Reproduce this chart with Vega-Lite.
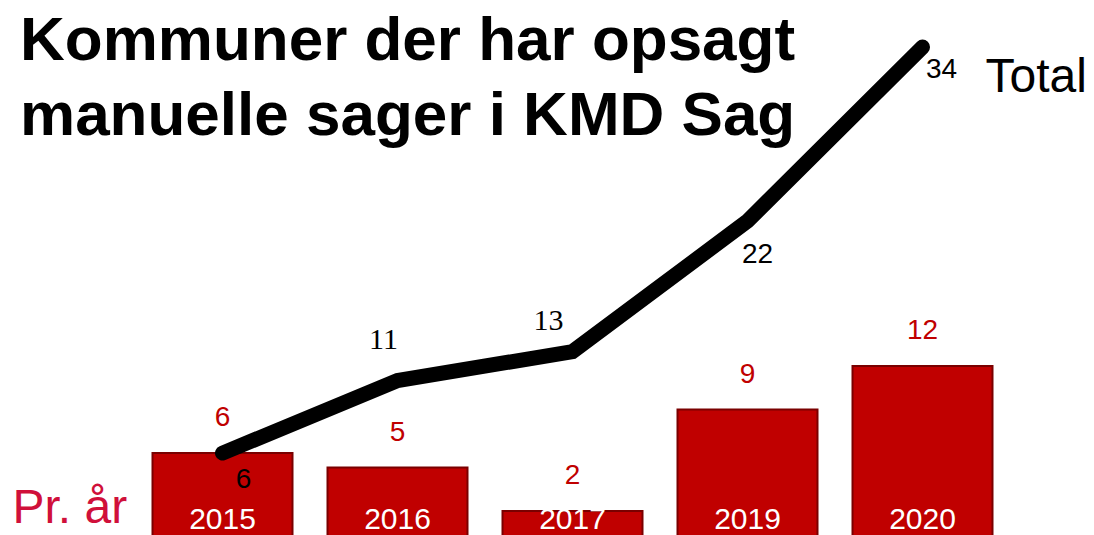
{
  "$schema": "https://vega.github.io/schema/vega-lite/v6.json",
  "width": 875,
  "height": 535,
  "autosize": {"type": "none"},
  "padding": {"left": 135, "top": 0, "right": 84, "bottom": 0},
  "background": "white",
  "config": {"view": {"stroke": null}},
  "title": {
    "text": ["Kommuner der har opsagt", "manuelle sager i KMD Sag"],
    "anchor": "start",
    "frame": "group",
    "orient": "top",
    "font": "Liberation Sans",
    "fontSize": 62,
    "fontWeight": "bold",
    "color": "black",
    "lineHeight": 75,
    "baseline": "top",
    "offset": 0,
    "dx": -115,
    "dy": 148
  },
  "data": {
    "values": [
      {"aar": "2015", "pr_aar": 6, "total": 6, "serie": "Total"},
      {"aar": "2016", "pr_aar": 5, "total": 11, "serie": "Total"},
      {"aar": "2017", "pr_aar": 2, "total": 13, "serie": "Total"},
      {"aar": "2019", "pr_aar": 9, "total": 22, "serie": "Total"},
      {"aar": "2020", "pr_aar": 12, "total": 34, "serie": "Total"}
    ]
  },
  "encoding": {
    "x": {
      "field": "aar",
      "type": "nominal",
      "scale": {"paddingInner": 0.2, "paddingOuter": 0.1},
      "axis": null
    }
  },
  "layer": [
    {
      "mark": {"type": "bar", "color": "#c00000", "stroke": "#7a0000", "strokeWidth": 2, "clip": true},
      "encoding": {
        "y": {
          "field": "pr_aar",
          "type": "quantitative",
          "scale": {"domain": [0.35, 37.25], "nice": false, "zero": false},
          "axis": {
            "domain": false,
            "ticks": false,
            "labels": false,
            "grid": false,
            "title": "Pr. år",
            "titleAngle": 0,
            "titleAlign": "left",
            "titleBaseline": "alphabetic",
            "titleX": -123,
            "titleY": 522,
            "titleFont": "Liberation Sans",
            "titleFontSize": 48,
            "titleFontWeight": "normal",
            "titleColor": "#d0103a"
          }
        }
      }
    },
    {
      "mark": {"type": "text", "font": "Liberation Sans", "fontSize": 28, "color": "#c00000", "baseline": "alphabetic", "dy": -27},
      "encoding": {
        "y": {"field": "pr_aar", "type": "quantitative"},
        "text": {"field": "pr_aar", "type": "quantitative"}
      }
    },
    {
      "mark": {"type": "text", "font": "Liberation Sans", "fontSize": 30, "color": "white", "baseline": "alphabetic", "dy": -11},
      "encoding": {
        "y": {"datum": 0},
        "text": {"field": "aar", "type": "nominal"}
      }
    },
    {
      "mark": {"type": "line", "color": "black", "strokeWidth": 15, "strokeCap": "round", "strokeJoin": "miter"},
      "encoding": {
        "y": {"field": "total", "type": "quantitative"}
      }
    },
    {
      "transform": [{"filter": "datum.aar == '2015'"}],
      "mark": {"type": "text", "font": "Liberation Sans", "fontSize": 28, "color": "black", "baseline": "middle", "dx": 21, "dy": 27},
      "encoding": {"y": {"field": "total", "type": "quantitative"}, "text": {"field": "total", "type": "quantitative"}}
    },
    {
      "transform": [{"filter": "datum.aar == '2016'"}],
      "mark": {"type": "text", "font": "Liberation Serif", "fontSize": 30, "color": "black", "baseline": "middle", "dx": -14, "dy": -41},
      "encoding": {"y": {"field": "total", "type": "quantitative"}, "text": {"field": "total", "type": "quantitative"}}
    },
    {
      "transform": [{"filter": "datum.aar == '2017'"}],
      "mark": {"type": "text", "font": "Liberation Serif", "fontSize": 30, "color": "black", "baseline": "middle", "dx": -24, "dy": -31},
      "encoding": {"y": {"field": "total", "type": "quantitative"}, "text": {"field": "total", "type": "quantitative"}}
    },
    {
      "transform": [{"filter": "datum.aar == '2019'"}],
      "mark": {"type": "text", "font": "Liberation Sans", "fontSize": 28, "color": "black", "baseline": "middle", "dx": 10, "dy": 34},
      "encoding": {"y": {"field": "total", "type": "quantitative"}, "text": {"field": "total", "type": "quantitative"}}
    },
    {
      "transform": [{"filter": "datum.aar == '2020'"}],
      "mark": {"type": "text", "font": "Liberation Sans", "fontSize": 28, "color": "black", "baseline": "middle", "dx": 19, "dy": 23},
      "encoding": {"y": {"field": "total", "type": "quantitative"}, "text": {"field": "total", "type": "quantitative"}}
    },
    {
      "transform": [{"filter": "datum.aar == '2020'"}],
      "mark": {"type": "text", "font": "Liberation Sans", "fontSize": 48, "color": "black", "align": "left", "baseline": "alphabetic", "dx": 63, "dy": 45},
      "encoding": {"y": {"field": "total", "type": "quantitative"}, "text": {"field": "serie", "type": "nominal"}}
    }
  ]
}
